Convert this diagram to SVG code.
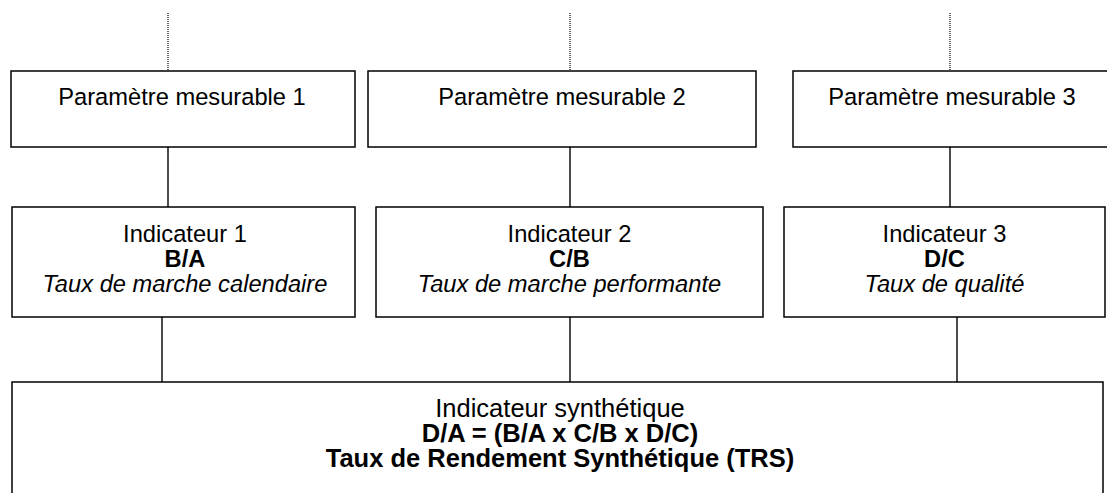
<svg xmlns="http://www.w3.org/2000/svg" width="1107" height="493" viewBox="0 0 1107 493">
<style>
.box{fill:#fff;stroke:#000;stroke-width:1.5}
.ln{stroke:#000;stroke-width:1.4;fill:none}
.dot{stroke:#000;stroke-width:1.2;stroke-dasharray:1 1;fill:none}
text{font-family:"Liberation Sans",Arial,sans-serif;font-size:23.7px;fill:#000;text-anchor:middle}
.big{font-size:25.5px}
.b{font-weight:bold}
.i{font-style:italic}
</style>
<rect width="1107" height="493" fill="#fff"/>
<g id="connectors">
<line class="dot" x1="168" y1="13" x2="168" y2="71"/>
<line class="dot" x1="570" y1="13" x2="570" y2="71"/>
<line class="dot" x1="950" y1="13" x2="950" y2="71"/>
<line class="ln" x1="168" y1="147" x2="168" y2="207"/>
<line class="ln" x1="570" y1="147" x2="570" y2="207"/>
<line class="ln" x1="950" y1="147" x2="950" y2="207"/>
<line class="ln" x1="162" y1="317" x2="162" y2="382"/>
<line class="ln" x1="570" y1="317" x2="570" y2="382"/>
<line class="ln" x1="957" y1="317" x2="957" y2="382"/>
</g>
<g id="param1">
<rect class="box" x="11" y="71" width="344" height="76"/>
<text x="182" y="105">Paramètre mesurable 1</text>
</g>
<g id="param2">
<rect class="box" x="368" y="71" width="388" height="76"/>
<text x="562" y="105">Paramètre mesurable 2</text>
</g>
<g id="param3">
<rect class="box" x="793" y="71" width="330" height="76"/>
<text x="952" y="105">Paramètre mesurable 3</text>
</g>
<g id="ind1">
<rect class="box" x="12" y="207" width="343" height="110"/>
<text x="185" y="242">Indicateur 1</text>
<text class="b" x="185" y="267">B/A</text>
<text class="i" x="185" y="292">Taux de marche calendaire</text>
</g>
<g id="ind2">
<rect class="box" x="376" y="207" width="387" height="110"/>
<text x="569.5" y="242">Indicateur 2</text>
<text class="b" x="569.5" y="267">C/B</text>
<text class="i" x="569.5" y="292">Taux de marche performante</text>
</g>
<g id="ind3">
<rect class="box" x="784" y="207" width="321" height="110"/>
<text x="944.5" y="242">Indicateur 3</text>
<text class="b" x="944.5" y="267">D/C</text>
<text class="i" x="944.5" y="292">Taux de qualité</text>
</g>
<g id="synth">
<rect class="box" x="12" y="382" width="1091" height="130"/>
<text class="big" x="560" y="417">Indicateur synthétique</text>
<text class="big b" x="560" y="442">D/A = (B/A x C/B x D/C)</text>
<text class="big b" x="560" y="467">Taux de Rendement Synthétique (TRS)</text>
</g>
</svg>
